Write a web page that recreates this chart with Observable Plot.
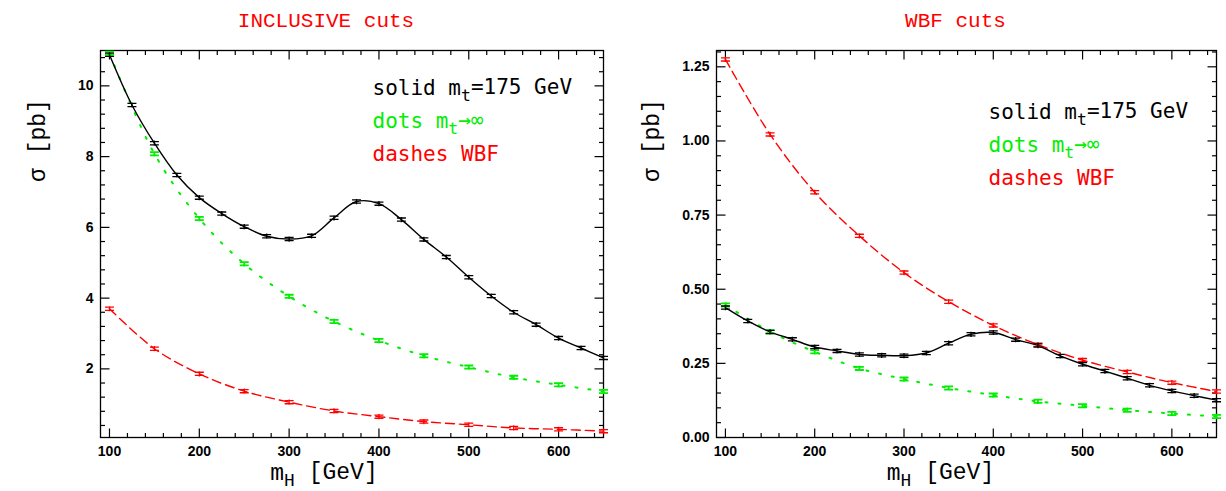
<!DOCTYPE html>
<html><head><meta charset="utf-8">
<script src="https://cdn.jsdelivr.net/npm/d3@7"></script>
<script src="https://cdn.jsdelivr.net/npm/@observablehq/plot@0.6"></script>
<style>
body{margin:0;background:#fff;}
#wrap{display:flex;width:1226px;height:491px;overflow:hidden;}
</style></head><body><div id="wrap"></div>
<script>
// ---- data ----
const mH25 = [100,125,150,175,200,225,250,275,300,325,350,375,400,425,450,475,500,525,550,575,600,625,650];
const mH50 = [100,150,200,250,300,350,400,450,500,550,600,650];

const inclSolid = [10.88,9.46,8.38,7.48,6.84,6.39,6.02,5.75,5.67,5.76,6.27,6.73,6.67,6.22,5.66,5.16,4.59,4.06,3.60,3.25,2.87,2.59,2.31];
const inclDots  = [10.92,8.08,6.25,4.97,4.05,3.34,2.80,2.37,2.05,1.76,1.55,1.36];
const inclDash  = [3.70,2.57,1.86,1.37,1.06,0.81,0.65,0.51,0.42,0.33,0.29,0.24];

const wbfSolid = [0.438,0.393,0.356,0.331,0.305,0.292,0.280,0.277,0.276,0.285,0.318,0.348,0.354,0.330,0.310,0.275,0.247,0.224,0.200,0.176,0.157,0.141,0.126];
const wbfDots  = [0.447,0.357,0.289,0.233,0.197,0.167,0.143,0.122,0.107,0.092,0.081,0.071];
const wbfDash  = [1.275,1.022,0.827,0.680,0.556,0.458,0.378,0.313,0.261,0.221,0.185,0.155];

const xTickLabels = [100,200,300,400,500,600];
const inclTickLabels = [2,4,6,8,10];
const wbfTickLabels = [0,0.25,0.5,0.75,1.0,1.25];

const legendLines = ["solid m_t=175 GeV", "dots m_t\u2192\u221e", "dashes WBF"];
const legendColors = ["black", "#00ee00", "red"];
const titles = ["INCLUSIVE cuts", "WBF cuts"];
const yLabel = "\u03c3 [pb]";
const xLabel = "m_H [GeV]";

// ---- helpers ----
const GREEN = "#00ee00";
const rows = (xs, ys) => xs.map((x, i) => ({x, y: ys[i]}));
const seg = (dx, dy) => ({draw(ctx) { ctx.moveTo(0, 0); ctx.lineTo(dx, dy); }});
const errBar = {draw(ctx) {
  ctx.moveTo(-4.5, -1.6); ctx.lineTo(4.5, -1.6);
  ctx.moveTo(-4.5, 1.6); ctx.lineTo(4.5, 1.6);
  ctx.moveTo(0, -2.6); ctx.lineTo(0, 2.6);
}};
const offMajor = (vals, step) => vals.filter(v => Math.abs(v / step - Math.round(v / step)) > 1e-6);

function subscriptify(svg) {
  const ns = "http://www.w3.org/2000/svg";
  svg.querySelectorAll("text").forEach(t => {
    const s = t.textContent;
    const m = s.match(/^(.*?)_(\w)(.*)$/);
    if (!m) return;
    t.textContent = "";
    const a = document.createElementNS(ns, "tspan"); a.textContent = m[1];
    const b = document.createElementNS(ns, "tspan"); b.textContent = m[2];
    b.setAttribute("dy", "0.38em"); b.setAttribute("font-size", "0.78em");
    const c = document.createElementNS(ns, "tspan"); c.textContent = m[3];
    c.setAttribute("dy", "-0.3em");
    t.append(a, b, c);
  });
}

function panel(o) {
  const xMinor = offMajor(d3.range(100, 650, 20), 100);
  const yMinor = offMajor(d3.range(o.minorStep, o.yDomain[1], o.minorStep), o.majorStep);
  const tk = {stroke: "black", fill: "none", strokeWidth: 1.2};
  const marks = [
    Plot.frame({stroke: "black", strokeWidth: 1.3}),
    // inward ticks on all four sides
    Plot.dot(o.yMajor, {y: d => d, frameAnchor: "left", symbol: seg(9, 0), ...tk}),
    Plot.dot(yMinor, {y: d => d, frameAnchor: "left", symbol: seg(4.5, 0), ...tk}),
    Plot.dot(o.yMajor, {y: d => d, frameAnchor: "right", symbol: seg(-9, 0), ...tk}),
    Plot.dot(yMinor, {y: d => d, frameAnchor: "right", symbol: seg(-4.5, 0), ...tk}),
    Plot.dot(xTickLabels, {x: d => d, frameAnchor: "bottom", symbol: seg(0, -9), ...tk}),
    Plot.dot(xMinor, {x: d => d, frameAnchor: "bottom", symbol: seg(0, -4.5), ...tk}),
    Plot.dot(xTickLabels, {x: d => d, frameAnchor: "top", symbol: seg(0, 9), ...tk}),
    Plot.dot(xMinor, {x: d => d, frameAnchor: "top", symbol: seg(0, 4.5), ...tk}),
    // curves
    Plot.line(rows(mH50, o.dash), {x: "x", y: "y", curve: "catmull-rom", stroke: "red", strokeWidth: 1.4, strokeDasharray: "9,5"}),
    Plot.line(rows(mH50, o.dots), {x: "x", y: "y", curve: "catmull-rom", stroke: GREEN, strokeWidth: 2, strokeDasharray: "2,11"}),
    Plot.line(rows(mH25, o.solid), {x: "x", y: "y", curve: "catmull-rom", stroke: "black", strokeWidth: 1.4}),
    // points with error bars
    Plot.dot(rows(mH50, o.dash), {x: "x", y: "y", symbol: errBar, stroke: "red", fill: "none", strokeWidth: 1.3}),
    Plot.dot(rows(mH50, o.dots), {x: "x", y: "y", symbol: errBar, stroke: GREEN, fill: "none", strokeWidth: 1.8}),
    Plot.dot(rows(mH25, o.solid), {x: "x", y: "y", symbol: errBar, stroke: "black", fill: "none", strokeWidth: 1.3}),
    // title
    Plot.text([o.title], {frameAnchor: "top", dx: o.titleDx, dy: -24, lineAnchor: "bottom", fill: "red",
      fontFamily: "Liberation Mono", fontSize: 21, fontWeight: "normal"}),
    // legend
    ...legendLines.map((s, i) => Plot.text([s], {frameAnchor: "top-left", textAnchor: "start", lineAnchor: "bottom",
      dx: 272, dy: o.legendDy + 33 * i, fill: legendColors[i],
      fontFamily: "DejaVu Sans Mono", fontSize: 21, fontWeight: "normal"})),
    // axis labels
    Plot.text([yLabel], {frameAnchor: "top-left", textAnchor: "middle", rotate: -90, dx: o.ylabDx, dy: 90, fill: "black",
      fontFamily: "Liberation Mono", fontSize: 23, fontWeight: "normal"}),
    Plot.text([xLabel], {frameAnchor: "bottom", lineAnchor: "bottom", dx: o.xlabDx, dy: 42, fill: "black",
      fontFamily: "Liberation Mono", fontSize: 23, fontWeight: "normal"})
  ];
  const svg = Plot.plot({
    width: 613, height: 491,
    marginLeft: o.marginLeft, marginRight: 10, marginTop: 50, marginBottom: 54,
    style: {fontFamily: "Liberation Sans", fontSize: "14px", fontWeight: "bold", background: "white", overflow: "visible"},
    x: {domain: [90, 650], ticks: xTickLabels, tickSize: 0, tickPadding: 9, tickFormat: d => String(d), label: null},
    y: {domain: o.yDomain, ticks: o.yMajor, tickSize: 0, tickPadding: 7, tickFormat: o.fmt, label: null},
    marks
  });
  subscriptify(svg);
  return svg;
}

const wrap = document.getElementById("wrap");
wrap.append(panel({
  title: titles[0], yDomain: [0.06, 11], yMajor: inclTickLabels, majorStep: 2, minorStep: 0.4,
  fmt: d => String(d), solid: inclSolid, dots: inclDots, dash: inclDash,
  marginLeft: 100, titleDx: -26, legendDy: 44, ylabDx: -72, xlabDx: -28
}));
wrap.append(panel({
  title: titles[1], yDomain: [0, 1.305], yMajor: wbfTickLabels, majorStep: 0.25, minorStep: 0.05,
  fmt: d3.format(".2f"), solid: wbfSolid, dots: wbfDots, dash: wbfDash,
  marginLeft: 103, titleDx: -11, legendDy: 68, ylabDx: -74, xlabDx: -26
}));
</script></body></html>
